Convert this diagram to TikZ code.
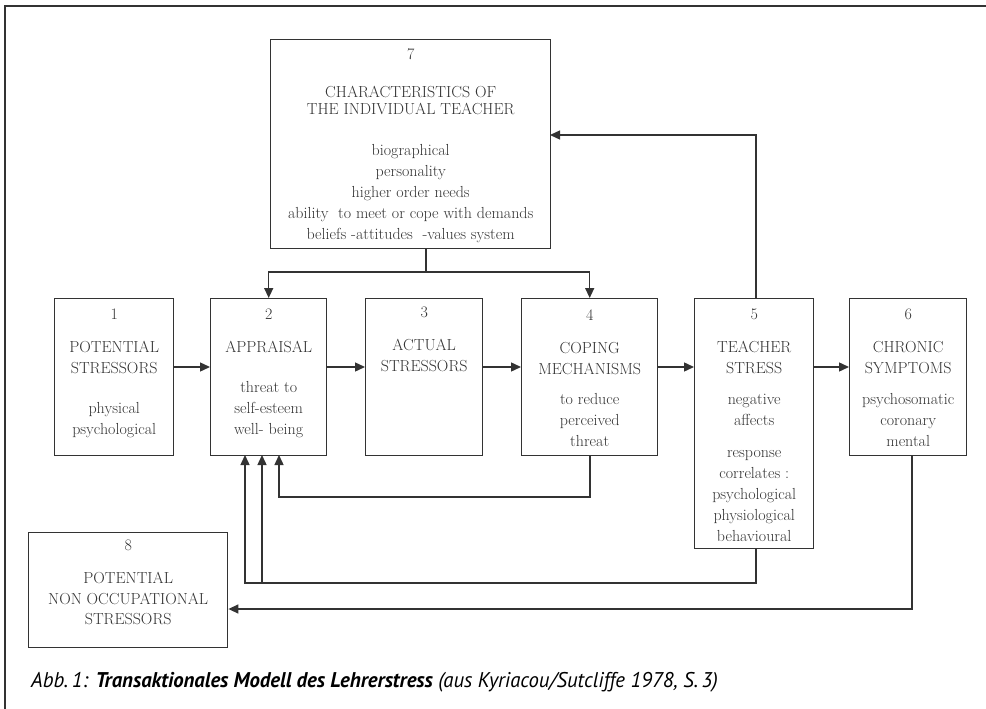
\documentclass[tikz,border=0pt]{standalone}
\usepackage{fontspec}
\newfontfamily\capfont{PT Sans}
\usetikzlibrary{arrows.meta,calc}
\definecolor{linec}{HTML}{333333}
\definecolor{textc}{HTML}{333333}
\newcommand\boxtext[4]{\parbox[c][#2pt][t]{#1pt}{\centering\fontsize{16pt}{21pt}\selectfont\vspace*{#3pt}#4\par}}
\tikzset{
  box/.style={draw=linec, line width=1.4pt, inner sep=0pt, anchor=north west, text=textc},
  arr/.style={draw=linec, line width=1.4pt, -{Triangle[length=10pt,width=9pt]}},
  ln/.style={draw=linec, line width=1.4pt},
  frame/.style={draw=linec, line width=1.8pt}
}
\begin{document}
\begin{tikzpicture}[x=1pt,y=-1pt]
\useasboundingbox (0,0) rectangle (986,709);
% outer frame (top and left only)
\coordinate (fr1) at (986,6);
\coordinate (fr2) at (5,6);
\coordinate (fr3) at (5,709);
\draw[frame] (fr1) -- (fr2) -- (fr3);

\node[box] (b7) at (270,39) {\boxtext{280}{209}{8.6}{7\\[17pt]
  CHARACTERISTICS OF\\[-4pt] THE INDIVIDUAL TEACHER\\[20pt]
  biographical\\ personality\\ higher order needs\\
  ability\ \ to meet or cope with demands\\ beliefs -attitudes\ \ -values system}};
\node[box] (b1) at (54,298) {\boxtext{119}{157}{10.6}{1\\[12pt] POTENTIAL\\ STRESSORS\\[19pt] physical\\ psychological}};
\node[box] (b2) at (210,298) {\boxtext{116}{157}{10.6}{2\\[12pt] APPRAISAL\\[19pt] threat to\\ self-esteem\\ well- being}};
\node[box] (b3) at (365,298) {\boxtext{117}{157}{8.6}{3\\[12pt] ACTUAL\\ STRESSORS}};
\node[box] (b4) at (521,298) {\boxtext{136}{157}{10.6}{4\\[12pt] COPING\\ MECHANISMS\\[9pt] to reduce\\ perceived\\ threat}};
\node[box] (b5) at (694,298) {\boxtext{119}{250}{10.6}{5\\[12pt] TEACHER\\ STRESS\\[10pt] negative\\ affects\\[11pt] response\\ correlates :\\ psychological\\ physiological\\ behavioural}};
\node[box] (b6) at (849,298) {\boxtext{117}{157}{10.6}{6\\[12pt] CHRONIC\\ SYMPTOMS\\[10pt] psychosomatic\\ coronary\\ mental}};
\node[box] (b8) at (28,532) {\boxtext{199}{115}{7.6}{8\\[12pt] POTENTIAL\\ NON OCCUPATIONAL\\[-1pt] STRESSORS}};

% horizontal chain
\coordinate (ya) at (0,367);
\draw[arr] (b1.east |- ya) -- (b2.west |- ya);
\draw[arr] (b2.east |- ya) -- (b3.west |- ya);
\draw[arr] (b3.east |- ya) -- (b4.west |- ya);
\draw[arr] (b4.east |- ya) -- (b5.west |- ya);
\draw[arr] (b5.east |- ya) -- (b6.west |- ya);

% from 7 down to 2 and 4
\coordinate (s7) at (426,248);
\coordinate (j7) at (426,272);
\draw[ln] (s7) -- (j7);
\draw[arr] (j7) -| (b2.north);
\draw[arr] (j7) -| (b4.north);

% from 5 up to 7
\coordinate (n5) at (756,298);
\coordinate (e7) at (550,135);
\draw[arr] (n5) |- (e7);

% from 4 back to 2
\coordinate (u3) at (279,455);
\coordinate (s4) at (590,455);
\coordinate (c4) at (590,497);
\draw[arr] (s4) -- (c4) -| (u3);

% from 5 back to 2 (two arrows)
\coordinate (s5) at (756,548);
\coordinate (c5) at (756,583);
\coordinate (u1) at (245,455);
\coordinate (u2) at (262,455);
\draw[arr] (s5) -- (c5) -| (u1);
\draw[arr] (u2 |- c5) -- (u2);

% from 6 to 8
\coordinate (s6) at (912,455);
\coordinate (c6) at (912,609);
\draw[arr] (s6) -- (c6) -- (b8.east |- c6);

% caption
\node[anchor=base west, inner sep=0pt, text=black] (cap) at (31,687)
  {\scalebox{0.975}[1]{\capfont\fontsize{21.3pt}{24pt}\selectfont\itshape Abb.\,1: \textbf{Transaktionales Modell des Lehrerstress} (aus Kyriacou/Sutcliffe 1978, S.\,3)}};
\end{tikzpicture}
\end{document}
